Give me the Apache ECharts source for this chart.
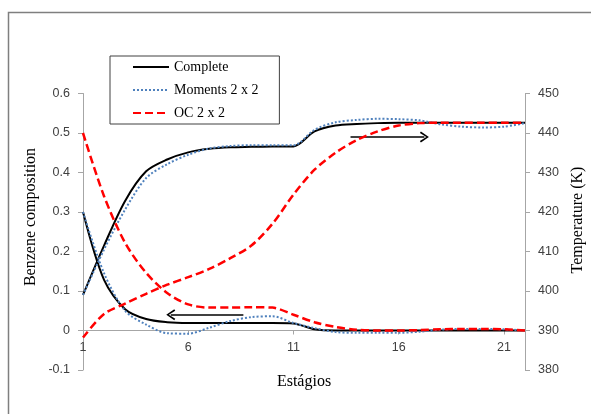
<!DOCTYPE html>
<html>
<head>
<meta charset="utf-8">
<script src="https://cdn.jsdelivr.net/npm/echarts@6/dist/echarts.min.js"></script>
<style>
html,body{margin:0;padding:0;background:#ffffff;}
#chart{width:591px;height:414px;}
</style>
</head>
<body>
<div id="chart"></div>
<script>
// ---- data ----
const stages = [1,2,3,4,5,6,7,8,9,10,11,12,13,14,15,16,17,18,19,20,21,22];
const seriesNames = ['Complete', 'Moments 2 x 2', 'OC 2 x 2'];

// Benzene composition (left axis)
const compComplete = [0.300,0.128,0.054,0.029,0.021,0.019,0.019,0.019,0.019,0.019,0.018,0.003,0.000,0.000,0.000,0.000,0.000,0.000,0.000,0.000,0.000,0.000];
const compMoments  = [0.300,0.145,0.050,0.015,-0.007,-0.008,0.007,0.024,0.034,0.036,0.019,0.006,-0.004,-0.006,-0.006,-0.006,-0.003,0.002,0.004,0.004,0.003,0.000];
const compOC       = [0.500,0.340,0.222,0.146,0.095,0.066,0.058,0.058,0.059,0.058,0.040,0.021,0.009,0.002,0.000,0.000,0.001,0.003,0.004,0.004,0.003,0.000];

// Temperature in K (right axis)
const tempComplete = [399.0,411.5,422.8,430.3,433.3,435.1,436.0,436.4,436.5,436.6,436.6,440.4,441.9,442.3,442.5,442.6,442.6,442.6,442.6,442.6,442.6,442.6];
const tempMoments  = [399.0,410.5,420.6,428.6,432.1,434.5,436.1,436.7,436.9,436.9,436.9,440.8,442.7,443.3,443.6,443.5,443.2,442.2,441.6,441.4,441.6,442.5];
const tempOC       = [388.2,394.2,396.8,399.3,401.6,403.5,405.6,408.3,411.5,417.0,424.4,430.7,435.0,438.2,440.4,441.9,442.5,442.6,442.6,442.6,442.6,442.6];

// axis tick settings
const leftAxisRange  = [-0.1, 0.6, 0.1];
const rightAxisRange = [380, 450, 10];
const stageRange     = [1, 22, 5];

// annotation arrows (data units: stage, value)
const arrowComposition = { from: 8.62, to: 5.17, value: 0.040 };
const arrowTemperature = { from: 13.71, to: 17.22, value: 439.0 };

// ---- chart ----
const toPairs = arr => stages.map((s, i) => [s, arr[i]]);
const axisGray = '#a6a6a6';
const labelStyle = { color: '#404040', fontSize: 12.5, fontFamily: 'Liberation Sans' };
const chevron = 'path://M5,0 L10,8 L8.6,9 L5,2.6 L1.4,9 L0,8 Z';

// grid geometry
const gridTop = 93.5, gridBottom = 44, chartH = 414;
const plotH = chartH - gridTop - gridBottom;
// move the stage axis up to the zero line of the left axis
const zeroOffset = -plotH * (0 - leftAxisRange[0]) / (leftAxisRange[1] - leftAxisRange[0]);

function arrowMark(a) {
  return {
    silent: true,
    animation: false,
    symbol: ['none', chevron],
    symbolSize: [11, 9],
    label: { show: false },
    lineStyle: { color: '#000000', width: 1.5, type: 'solid' },
    emphasis: { disabled: true },
    data: [[ { coord: [a.from, a.value] }, { coord: [a.to, a.value] } ]]
  };
}

const styles = {
  'Complete':      { color: '#000000', width: 2,   type: 'solid' },
  'Moments 2 x 2': { color: '#4f81bd', width: 2,   type: [2, 2] },
  'OC 2 x 2':      { color: '#ff0000', width: 2.5, type: [8, 4] }
};

function lineSeries(name, data, axisIndex, z, extra) {
  const st = styles[name];
  return Object.assign({
    name: name,
    type: 'line',
    yAxisIndex: axisIndex,
    data: toPairs(data),
    symbol: 'none',
    showSymbol: false,
    smooth: 0.3,
    z: z,
    color: st.color,
    lineStyle: { color: st.color, width: st.width, type: st.type, cap: 'butt' },
    emphasis: { disabled: true },
    animation: false
  }, extra || {});
}

const chart = echarts.init(document.getElementById('chart'), null, { renderer: 'canvas' });
chart.setOption({
  backgroundColor: '#ffffff',
  animation: false,
  grid: { left: 83, right: 66, top: gridTop, bottom: gridBottom, containLabel: false, outerBoundsMode: 'none' },
  legend: {
    data: seriesNames,
    orient: 'vertical',
    left: 110,
    top: 56,
    itemWidth: 36,
    itemHeight: 14,
    itemGap: 9,
    padding: [4, 21, 4, 22],
    borderColor: '#404040',
    borderWidth: 1,
    selectedMode: false,
    itemStyle: { opacity: 0, borderWidth: 0 },
    textStyle: { color: '#000000', fontSize: 14, fontFamily: 'Liberation Serif' }
  },
  xAxis: {
    type: 'value',
    min: stageRange[0], max: stageRange[1], interval: stageRange[2],
    offset: zeroOffset,
    axisLine: { show: true, onZero: false, lineStyle: { color: axisGray, width: 1 } },
    axisTick: { show: true, length: 4, lineStyle: { color: axisGray } },
    axisLabel: Object.assign({ margin: 11, showMaxLabel: false }, labelStyle),
    splitLine: { show: false }
  },
  yAxis: [
    {
      type: 'value', position: 'left',
      min: leftAxisRange[0], max: leftAxisRange[1], interval: leftAxisRange[2],
      axisLine: { show: true, onZero: false, lineStyle: { color: axisGray, width: 1 } },
      axisTick: { show: true, length: 5, lineStyle: { color: axisGray } },
      axisLabel: Object.assign({ margin: 13 }, labelStyle),
      splitLine: { show: false }
    },
    {
      type: 'value', position: 'right',
      min: rightAxisRange[0], max: rightAxisRange[1], interval: rightAxisRange[2],
      axisLine: { show: true, onZero: false, lineStyle: { color: axisGray, width: 1 } },
      axisTick: { show: true, length: 5, lineStyle: { color: axisGray } },
      axisLabel: Object.assign({ margin: 13 }, labelStyle),
      splitLine: { show: false }
    }
  ],
  graphic: [
    { type: 'rect', silent: true, z: 0,
      shape: { x: 8.5, y: 12.5, width: 700, height: 500 },
      style: { fill: 'none', stroke: '#7f7f7f', lineWidth: 1.5 } },
    { type: 'text', silent: true, x: 31, y: 217, rotation: Math.PI / 2,
      style: { text: 'Benzene composition', fill: '#000000', font: '16px "Liberation Serif"', align: 'center', verticalAlign: 'middle' } },
    { type: 'text', silent: true, x: 578, y: 220, rotation: Math.PI / 2,
      style: { text: 'Temperature (K)', fill: '#000000', font: '16px "Liberation Serif"', align: 'center', verticalAlign: 'middle' } },
    { type: 'text', silent: true, x: 304, y: 382,
      style: { text: 'Estágios', fill: '#000000', font: '16px "Liberation Serif"', align: 'center', verticalAlign: 'middle' } }
  ],
  series: [
    lineSeries('Complete', compComplete, 0, 3, { markLine: arrowMark(arrowComposition) }),
    lineSeries('Complete', tempComplete, 1, 3, { markLine: arrowMark(arrowTemperature) }),
    lineSeries('Moments 2 x 2', compMoments, 0, 4),
    lineSeries('Moments 2 x 2', tempMoments, 1, 4),
    lineSeries('OC 2 x 2', compOC, 0, 5),
    lineSeries('OC 2 x 2', tempOC, 1, 5)
  ]
});
</script>
</body>
</html>
